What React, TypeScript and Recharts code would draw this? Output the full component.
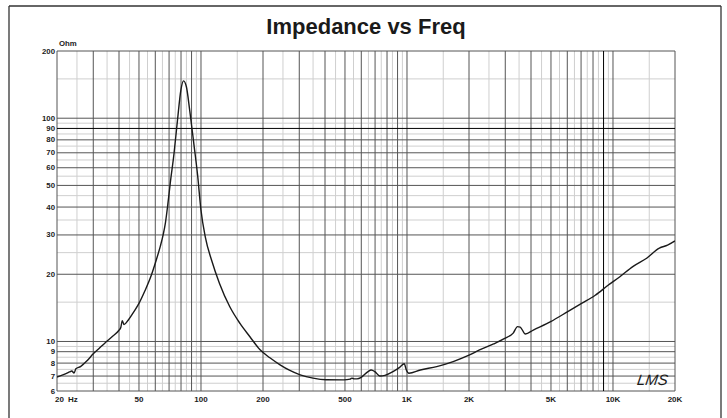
import React from 'react';
import { LineChart, Line, XAxis, YAxis, ReferenceLine } from 'recharts';

const freqHz = [
  20, 21.5, 23, 23.6, 24.2, 24.7, 26, 28, 30, 32, 34.2, 37, 39.9, 40.8, 41.5, 42.3, 44.3, 47, 50, 53.5, 57.5,
  60.5, 63.4, 65.5, 67.2, 69, 70.9, 74, 76.9, 79.9, 82.3, 85, 88.1, 92.3, 96.4, 99.9, 104.9, 112.6,
  123, 138, 154.6, 172.8, 193, 216, 242, 270, 303, 350, 405, 494, 530, 540, 555, 572, 600,
  647, 670, 698, 738, 782, 855, 921, 970, 993, 1022, 1161, 1394, 1676, 2014, 2250, 2634,
  2984, 3278, 3441, 3545, 3755, 4103, 4983, 6030, 7040, 8200, 9500, 10800, 12530, 14570,
  16790, 18400, 20000,
];
const impedanceOhm = [
  6.93, 7.1, 7.3, 7.38, 7.22, 7.55, 7.72, 8.2, 8.8, 9.3, 9.85, 10.5, 11.2, 11.55, 12.4, 11.9, 12.45, 13.5, 14.8, 16.9, 19.9,
  23, 26.6, 30, 34, 41, 51, 69.7, 98, 134, 147, 138, 109, 77, 55, 39, 29.4, 23.1,
  18.2, 14.3, 12.05, 10.5, 9.2, 8.45, 7.86, 7.42, 7.09, 6.85, 6.74, 6.73, 6.78, 6.85, 6.8, 6.8, 6.91,
  7.33, 7.45, 7.33, 7.0, 7.05, 7.33, 7.66, 7.95, 7.45, 7.2, 7.45, 7.72, 8.13, 8.7, 9.16, 9.75,
  10.33, 10.9, 11.66, 11.6, 10.8, 11.25, 12.27, 13.6, 14.8, 16.1, 17.9, 19.5, 21.7, 23.6,
  26.2, 27.0, 28.2,
];

const xTickValues = [20, 50, 100, 200, 500, 1000, 2000, 5000, 10000, 20000];
const xTickLabels = ['20', '50', '100', '200', '500', '1K', '2K', '5K', '10K', '20K'];
const yTickValues = [6, 7, 8, 9, 10, 20, 30, 40, 50, 60, 70, 80, 90, 100, 200];

const xMajorGrid = [
  20, 30, 40, 50, 60, 70, 80, 90, 100, 200, 300, 400, 500, 600, 700, 800, 900,
  1000, 2000, 3000, 4000, 5000, 6000, 7000, 8000, 10000, 20000,
];
const xMinorGrid = [
  25, 35, 45, 55, 65, 75, 85, 95, 150, 250, 350, 450, 550, 650, 750, 850, 950,
  1500, 2500, 3500, 4500, 5500, 6500, 7500, 8500, 9500, 15000,
];
const xMarkerGrid = [9000];
const yMajorGrid = [6, 7, 8, 9, 10, 20, 30, 40, 50, 60, 70, 80, 100, 200];
const yMinorGrid = [6.5, 7.5, 8.5, 9.5, 15, 25, 35, 45, 55, 65, 75, 85, 95, 150];
const yMarkerGrid = [90];

const data = freqHz.map((f, i) => ({ f, z: impedanceOhm[i] }));

const FONT = '"Liberation Sans", Arial, Helvetica, sans-serif';
const MINOR = '#cfcfcf';
const MAJOR = '#555555';
const MARK = '#000000';
const TEXT = '#1a1a1a';

const XTick = (props: any) => {
  const { x, y, payload } = props;
  const idx = xTickValues.indexOf(payload.value);
  const label = idx >= 0 ? xTickLabels[idx] : String(payload.value);
  if (payload.value === 20) {
    return (
      <g>
        <text x={x + 2.5} y={y + 11} textAnchor="middle" fontFamily={FONT} fontWeight="bold" fontSize={8} fill={TEXT}>20</text>
        <text x={x + 11} y={y + 11} textAnchor="start" fontFamily={FONT} fontWeight="bold" fontSize={8} fill={TEXT}>Hz</text>
      </g>
    );
  }
  return (
    <text x={x} y={y + 11} textAnchor="middle" fontFamily={FONT} fontWeight="bold" fontSize={8} fill={TEXT}>{label}</text>
  );
};

const YTick = (props: any) => {
  const { x, y, payload } = props;
  return (
    <text x={x - 2} y={y + 2.5} textAnchor="end" fontFamily={FONT} fontWeight="bold" fontSize={7.8} fill={TEXT}>{payload.value}</text>
  );
};

export default function App() {
  return (
    <div style={{ position: 'absolute', left: 0, top: 0, width: 727, height: 418, background: '#fff' }}>
      <LineChart
        width={727}
        height={418}
        data={data}
        margin={{ top: 51, right: 52, bottom: 0, left: 0 }}
      >
        <XAxis
          dataKey="f"
          type="number"
          scale="log"
          domain={[20, 20000]}
          allowDataOverflow
          ticks={xTickValues}
          tick={<XTick />}
          tickLine={false}
          axisLine={false}
          tickSize={0}
          tickMargin={0}
          height={27}
          interval={0}
        />
        <YAxis
          dataKey="z"
          type="number"
          scale="log"
          domain={[6, 200]}
          allowDataOverflow
          ticks={yTickValues}
          tick={<YTick />}
          tickLine={false}
          axisLine={false}
          tickSize={0}
          tickMargin={0}
          width={57}
          interval={0}
        />
        {xMinorGrid.map((v) => (
          <ReferenceLine key={'xm' + v} x={v} stroke={MINOR} strokeWidth={1} />
        ))}
        {yMinorGrid.map((v) => (
          <ReferenceLine key={'ym' + v} y={v} stroke={MINOR} strokeWidth={1} />
        ))}
        {xMajorGrid.map((v) => (
          <ReferenceLine key={'xM' + v} x={v} stroke={MAJOR} strokeWidth={1} />
        ))}
        {yMajorGrid.map((v) => (
          <ReferenceLine key={'yM' + v} y={v} stroke={MAJOR} strokeWidth={1} />
        ))}
        {xMarkerGrid.map((v) => (
          <ReferenceLine key={'xK' + v} x={v} stroke={MARK} strokeWidth={1} />
        ))}
        {yMarkerGrid.map((v) => (
          <ReferenceLine key={'yK' + v} y={v} stroke={MARK} strokeWidth={1} />
        ))}
        <Line
          type="monotoneX"
          dataKey="z"
          stroke="#1a1a1a"
          strokeWidth={1.4}
          dot={false}
          isAnimationActive={false}
        />
      </LineChart>
      <svg
        width={727}
        height={418}
        style={{ position: 'absolute', left: 0, top: 0, pointerEvents: 'none' }}
      >
        <line x1={9} y1={6} x2={9} y2={418} stroke="#333" strokeWidth={1.3} />
        <line x1={9} y1={6} x2={721} y2={6} stroke="#333" strokeWidth={1.3} />
        <line x1={721} y1={6} x2={721} y2={418} stroke="#333" strokeWidth={1.3} />
        <text x={366} y={33.5} textAnchor="middle" fontFamily={FONT} fontWeight="bold" fontSize={22} fill={TEXT}>Impedance vs Freq</text>
        <text x={59} y={46} textAnchor="start" fontFamily={FONT} fontWeight="bold" fontSize={7.8} fill={TEXT}>Ohm</text>
        <text x={652} y={385} textAnchor="middle" fontFamily={FONT} fontStyle="italic" fontSize={15} fill={TEXT} transform="skewX(-8) translate(54,0)">LMS</text>
      </svg>
    </div>
  );
}
